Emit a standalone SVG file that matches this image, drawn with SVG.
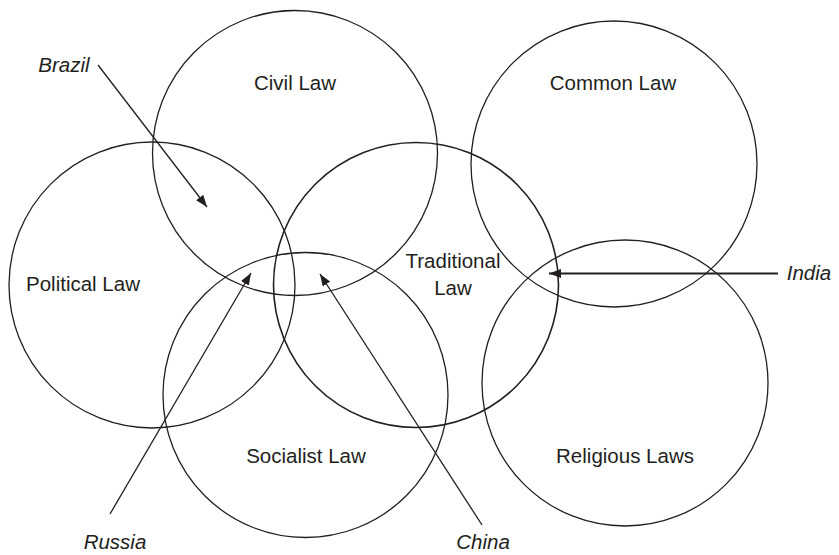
<svg xmlns="http://www.w3.org/2000/svg" width="839" height="555" viewBox="0 0 839 555">
  <style>
    .ring { fill: none; stroke: #231f20; stroke-width: 1.3; }
    .label { font-family: "Liberation Sans", Arial, sans-serif; font-size: 20.5px; fill: #231f20; text-anchor: middle; }
    .country { font-family: "Liberation Sans", Arial, sans-serif; font-size: 20.5px; font-style: italic; fill: #231f20; text-anchor: middle; }
    .pointer { fill: none; stroke: #231f20; stroke-width: 1.3; marker-end: url(#head); }
  </style>
  <defs>
    <marker id="head" markerUnits="userSpaceOnUse" markerWidth="13" markerHeight="9" refX="12" refY="4.5" orient="auto">
      <path d="M0,0 L12,4.5 L0,9 Z" fill="#231f20"/>
    </marker>
  </defs>
  <rect width="839" height="555" fill="#fff"/>

  <g id="civil-law">
    <circle class="ring" cx="295" cy="153" r="142.5"/>
    <text class="label" x="295" y="90">Civil Law</text>
  </g>
  <g id="common-law">
    <circle class="ring" cx="614" cy="164" r="143"/>
    <text class="label" x="613" y="90">Common Law</text>
  </g>
  <g id="political-law">
    <circle class="ring" cx="152" cy="285" r="143"/>
    <text class="label" x="83" y="291">Political Law</text>
  </g>
  <g id="traditional-law">
    <circle class="ring" cx="416" cy="285" r="142.5" style="stroke-width:1.6"/>
    <text class="label" x="453" y="268">Traditional</text>
    <text class="label" x="453" y="295">Law</text>
  </g>
  <g id="socialist-law">
    <circle class="ring" cx="305.5" cy="395" r="142.5"/>
    <text class="label" x="306" y="463">Socialist Law</text>
  </g>
  <g id="religious-laws">
    <circle class="ring" cx="625" cy="383" r="143"/>
    <text class="label" x="625" y="463">Religious Laws</text>
  </g>

  <g id="connectors">
    <line class="pointer" x1="98" y1="65" x2="207" y2="207"/>
    <line class="pointer" x1="110" y1="514" x2="251" y2="273"/>
    <line class="pointer" x1="482" y1="525" x2="320" y2="274"/>
    <line class="pointer" x1="778" y1="273.5" x2="549" y2="273.5" style="stroke-width:2.2"/>
  </g>

  <g id="countries">
    <text class="country" x="64" y="72">Brazil</text>
    <text class="country" x="809" y="280">India</text>
    <text class="country" x="115" y="549">Russia</text>
    <text class="country" x="483" y="549">China</text>
  </g>
</svg>
